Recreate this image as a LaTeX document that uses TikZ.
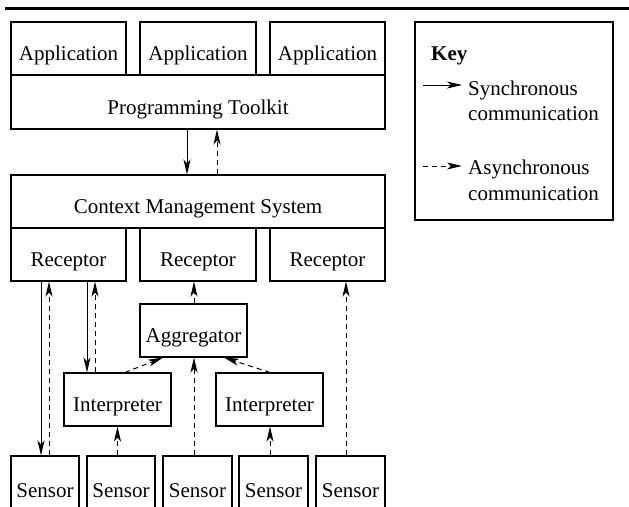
\documentclass[tikz,border=0pt]{standalone}
\usepackage{fontspec}
\setmainfont{Liberation Serif}
\usetikzlibrary{arrows.meta}
\begin{document}
\begin{tikzpicture}[x=1pt,y=-1pt,
  box/.style={draw, line width=1.1pt, inner sep=0pt, text height=24pt, text depth=0pt, font=\fontsize{21}{25}\selectfont},
  wbox/.style={box, minimum width=115pt, minimum height=53pt},
  ibox/.style={box, minimum width=107pt, minimum height=53pt},
  sbox/.style={box, minimum width=68pt, minimum height=58pt},
  sync/.style={line width=1pt, -{Stealth[length=15pt,width=7pt,inset=4pt]}},
  async/.style={sync, dash pattern=on 5pt off 4pt},
  keytext/.style={anchor=west, inner sep=0pt, font=\fontsize{21}{25.5}\selectfont, align=left}]
\useasboundingbox (0,0) rectangle (629,506);
\clip (0,0) rectangle (629,506);
\fill[white] (0,0) rectangle (629,506);
% top rule
\coordinate (ruleL) at (5,8);
\coordinate (ruleR) at (629,8);
\draw[line width=3pt] (ruleL) -- (ruleR);
% applications and toolkit
\node[wbox] (app1) at (68.5,48.5) {Application};
\node[wbox, minimum width=116pt] (app2) at (198,48.5) {Application};
\node[wbox] (app3) at (327.5,48.5) {Application};
\node[box, minimum width=374pt, minimum height=54pt] (pt) at (198,102) {Programming Toolkit};
% context management system and receptors
\node[box, minimum width=374pt, minimum height=53pt] (cms) at (198,201.5) {Context Management System};
\node[wbox] (rec1) at (68.5,254.5) {Receptor};
\node[wbox, minimum width=116pt] (rec2) at (198,254.5) {Receptor};
\node[wbox] (rec3) at (327.5,254.5) {Receptor};
% aggregator and interpreters
\node[ibox] (agg) at (193.5,330.5) {Aggregator};
\node[ibox] (int1) at (117.5,399.5) {Interpreter};
\node[ibox] (int2) at (269.5,399.5) {Interpreter};
% sensors (bottom edge lies outside the picture)
\node[sbox] (s1) at (45,485) {Sensor};
\node[sbox] (s2) at (121,485) {Sensor};
\node[sbox, minimum width=69pt] (s3) at (197.5,485) {Sensor};
\node[sbox, minimum width=69pt] (s4) at (273.5,485) {Sensor};
\node[sbox, minimum width=69pt] (s5) at (350.5,485) {Sensor};
% x positions of connectors
\coordinate (x41) at (41,0);
\coordinate (x49) at (49,0);
\coordinate (x87) at (87,0);
\coordinate (x95) at (95,0);
\coordinate (x117) at (117.5,0);
\coordinate (x125) at (125,0);
\coordinate (x163) at (163,0);
\coordinate (x187) at (187,0);
\coordinate (x194) at (194,0);
\coordinate (x217) at (217,0);
\coordinate (x224) at (224,0);
\coordinate (x270) at (270,0);
\coordinate (x346) at (346,0);
% connectors
\draw[sync] (pt.south -| x187) -- (cms.north -| x187);
\draw[async] (cms.north -| x217) -- (pt.south -| x217);
\draw[sync] (rec1.south -| x41) -- (s1.north -| x41);
\draw[async] (s1.north -| x49) -- (rec1.south -| x49);
\draw[sync] (rec1.south -| x87) -- (int1.north -| x87);
\draw[async] (int1.north -| x95) -- (rec1.south -| x95);
\draw[async] (agg.north -| x194) -- (rec2.south -| x194);
\draw[async] (s3.north -| x194) -- (agg.south -| x194);
\draw[async] (s2.north -| x117) -- (int1.south -| x117);
\draw[async] (s4.north -| x270) -- (int2.south -| x270);
\draw[async] (s5.north -| x346) -- (rec3.south -| x346);
\draw[async] (int1.north -| x125) -- (agg.south -| x163);
\draw[async] (int2.north -| x270) -- (agg.south -| x224);
% key
\node[box, minimum width=198pt, minimum height=198pt] (key) at (514,121) {};
\node[keytext, font=\fontsize{21}{25}\selectfont\bfseries] (keyt) at (431,56) {Key};
\coordinate (k1a) at (423,85);
\coordinate (k1b) at (462,85);
\coordinate (k2a) at (423,166);
\coordinate (k2b) at (462,166);
\draw[sync] (k1a) -- (k1b);
\draw[async] (k2a) -- (k2b);
\node[keytext] (ks) at (468,101) {Synchronous\\communication};
\node[keytext] (ka) at (468,180.5) {Asynchronous\\communication};
\end{tikzpicture}
\end{document}
